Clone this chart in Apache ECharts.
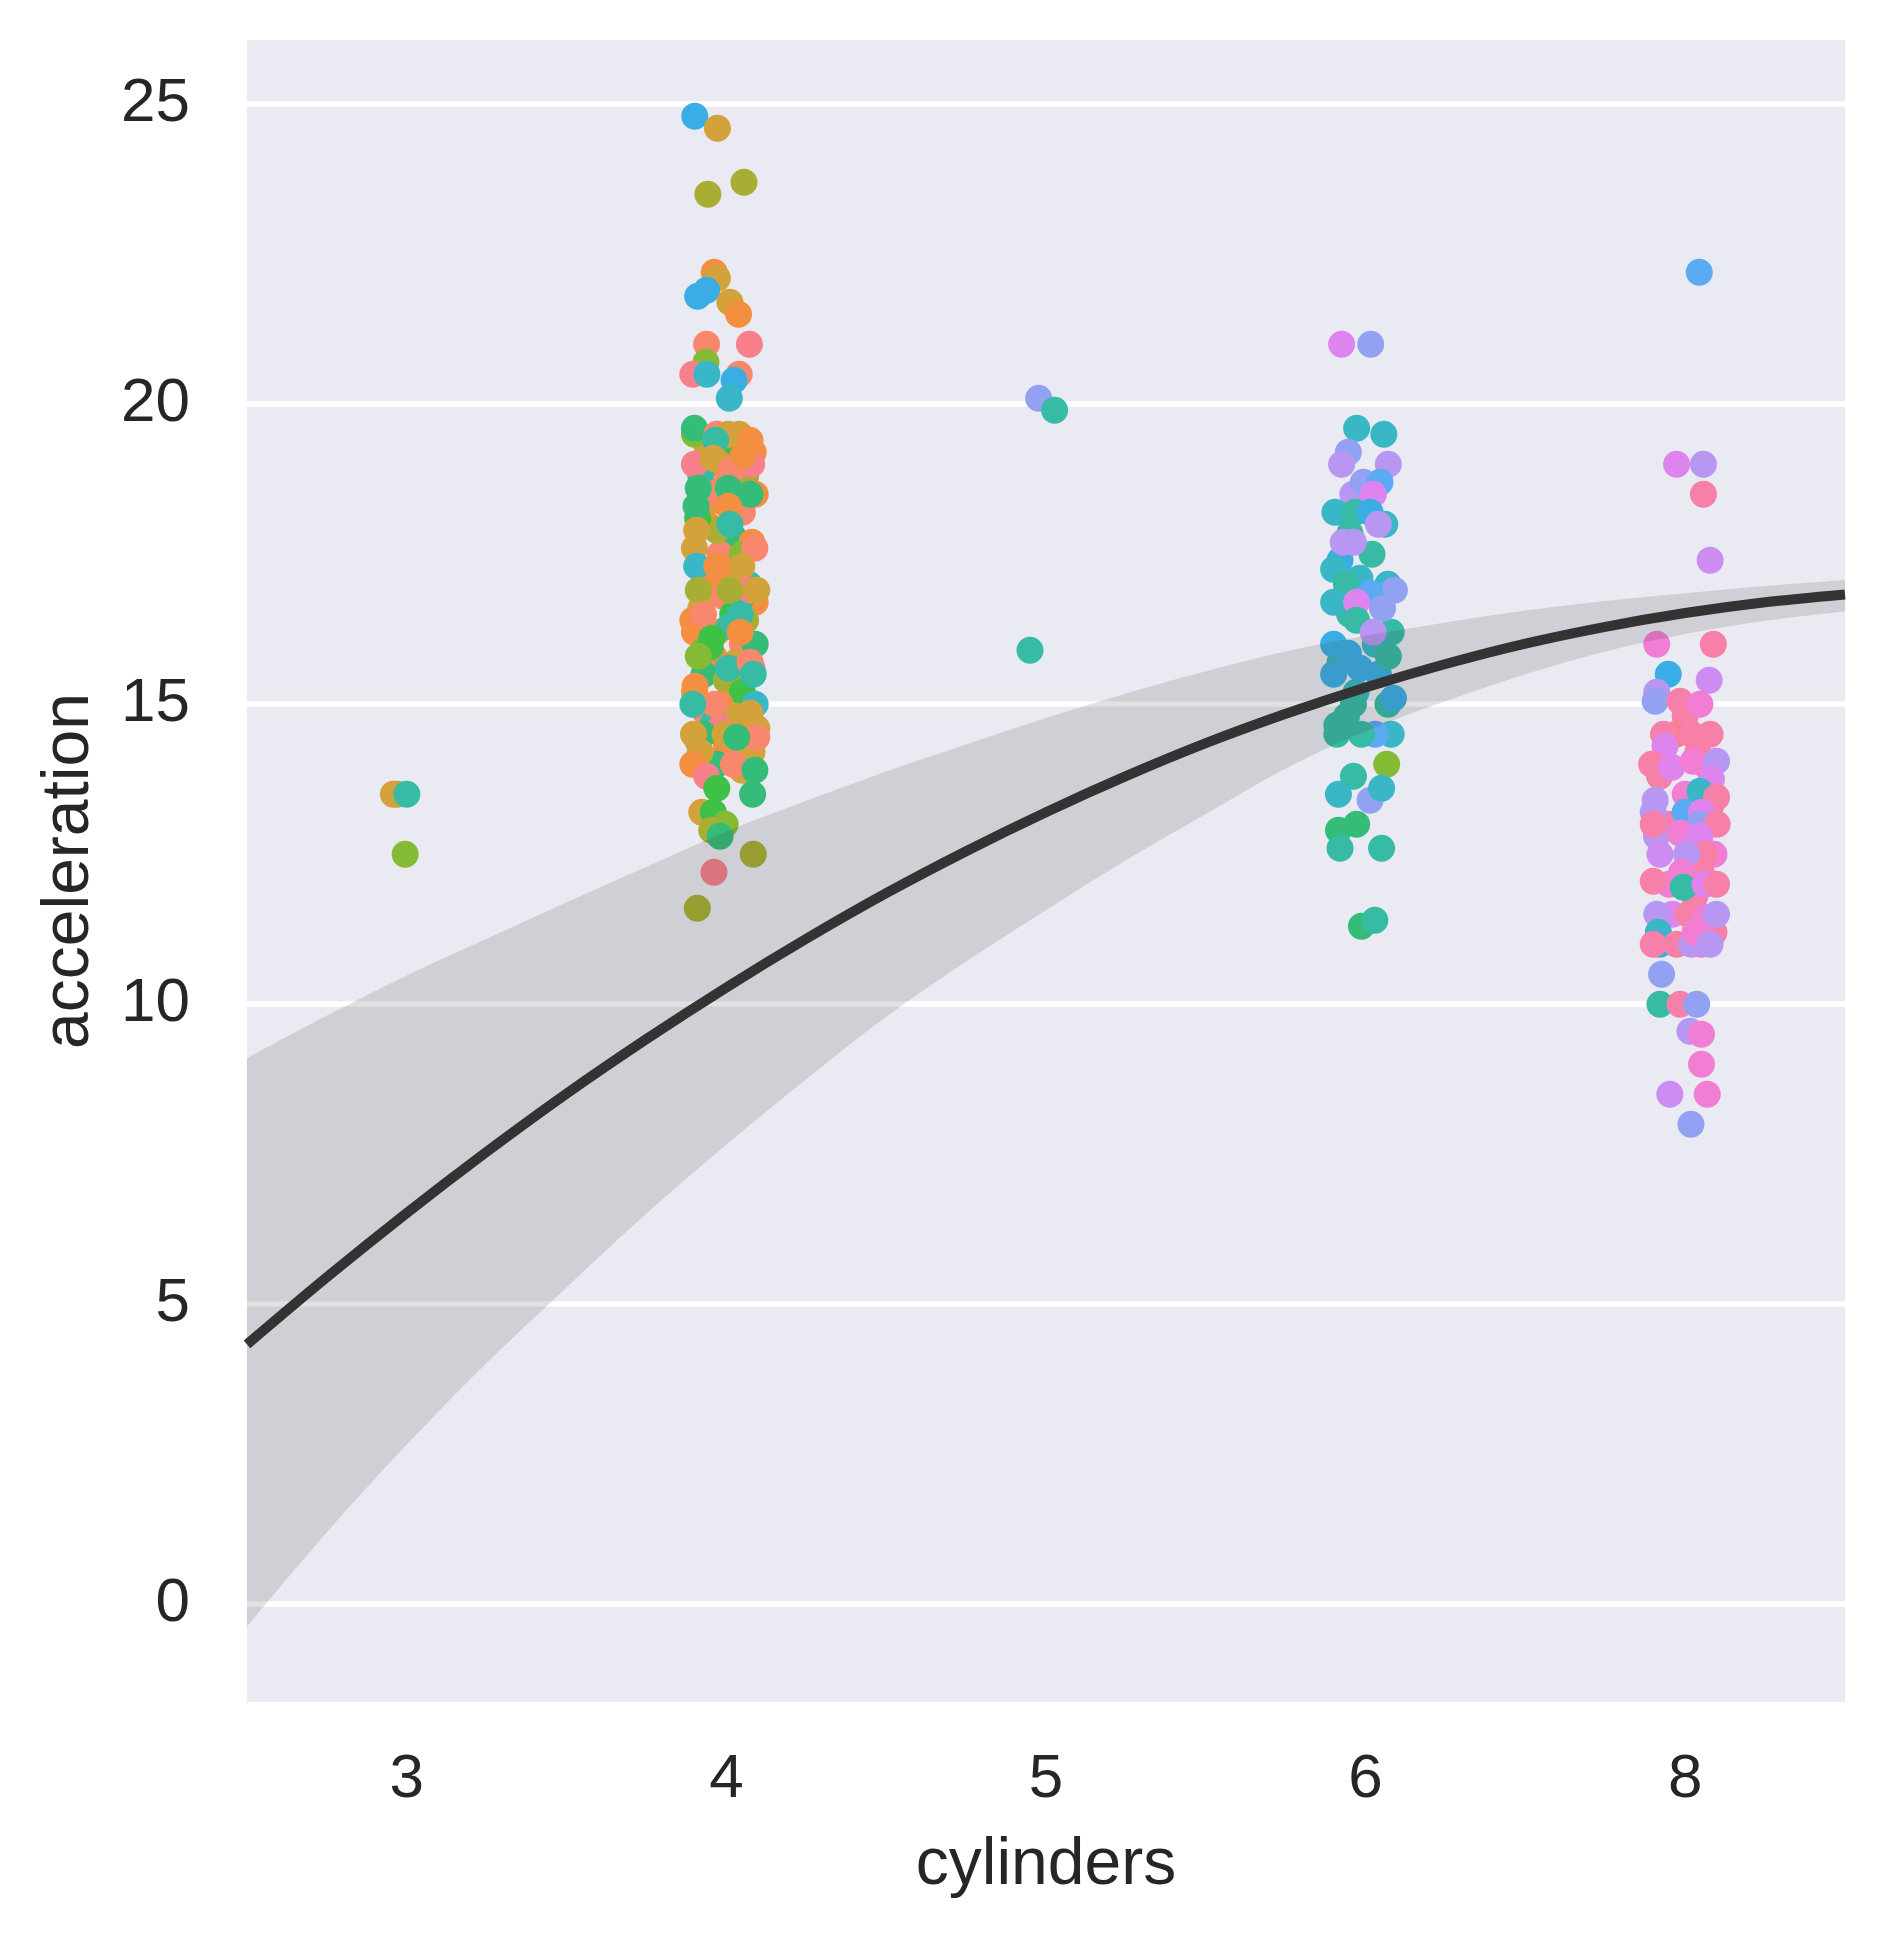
<!DOCTYPE html>
<html><head><meta charset="utf-8">
<script src="https://cdn.jsdelivr.net/npm/echarts@6/dist/echarts.min.js"></script>
<style>html,body{margin:0;padding:0;background:#fff}#c{width:1885px;height:1938px}</style>
</head><body><div id="c"></div>
<script>
// ---------- DATA ----------
const categories = ['3', '4', '5', '6', '8'];

// cylinders = 3
const acc3 = [13.5, 13.5, 13.5, 12.5];
const jit3 = [-0.03, -0.042, 0.0, -0.005];
const hue3 = 'GGTY';

// cylinders = 4 (back layer, then front layer)
const acc4a = [19.3,19.2,19.0,18.8,18.8,18.5,18.4,18.2,18.0,17.8,17.7,17.6,17.5,17.5,17.2,17.0,17.0,16.8,16.7,16.6,16.5,16.4,16.2,16.2,16.0,16.0,15.8,15.7,15.5,15.5,15.4,15.2,15.2,15.0,15.0,14.9,14.8,14.7,14.5,14.4,14.3,14.2,14.0,16.9,18.6,19.5,17.9,16.3,15.6,14.6,13.9,18.1,16.8,15.9];
const jit4a = [-0.06,0.03,-0.02,0.06,-0.08,0.09,-0.03,0.05,-0.06,0.02,0.08,-0.1,-0.02,0.05,0.0,-0.05,0.07,-0.01,0.09,-0.08,0.02,0.06,-0.1,-0.03,0.05,0.09,-0.04,0.03,-0.07,0.07,0.0,-0.1,0.05,-0.02,0.09,-0.07,0.03,-0.04,0.06,-0.09,0.0,0.08,-0.03,0.03,-0.01,0.04,-0.03,0.01,0.08,-0.02,0.05,-0.09,0.05,-0.07];
const hue4a = 'GNOLTOGSOEOGSYGOTSOGNLOGSEOGEOLGNOCSGTOLOGEOSGLTRRGNNY';
const acc4b = [24.8,24.6,23.5,23.7,22.2,22.1,21.8,21.9,21.7,21.5,21.0,21.0,20.7,20.5,20.5,20.5,20.4,20.1,
  19.5,19.6,
  19.5,19.5,19.4,19.4,19.2,19.0,19.0,
  19.1,18.9,19.15,18.5,
  18.6,18.6,18.5,18.3,18.3,
  17.9,18.0,17.6,17.3,17.3,17.3,16.9,16.9,16.9,16.9,
  16.4,16.5,16.5,16.2,16.1,15.95,15.6,15.7,15.8,15.3,
  15.5,15.0,15.0,14.85,14.5,14.5,14.5,14.6,14.45,14.2,
  14.0,14.0,14.45,13.8,13.9,13.5,13.6,13.2,13.2,13.0,
  12.9,12.8,12.5,12.2,11.6];
const jit4b = [-0.099,-0.028,-0.058,0.055,-0.038,-0.028,-0.09,-0.062,0.011,0.038,-0.062,0.072,-0.064,-0.105,-0.061,0.04,0.024,0.009,
  -0.1,-0.1,
  -0.03,0.006,0.074,-0.034,0.084,-0.1,0.079,
  -0.041,0.016,0.053,-0.051,
  -0.088,0.006,0.074,-0.095,0.006,
  -0.093,0.011,0.089,-0.093,0.048,-0.03,-0.088,0.074,0.011,0.095,
  -0.105,-0.072,0.043,0.043,-0.046,-0.051,0.006,0.074,-0.088,-0.098,
  0.084,-0.036,-0.105,0.074,-0.072,-0.103,-0.004,0.095,0.095,-0.082,
  -0.105,0.022,0.032,-0.062,0.089,0.082,-0.03,-0.077,-0.041,-0.004,
  -0.046,-0.02,0.084,-0.039,-0.091];
const hue4b = 'BGLLOGBBGOSRYRCSBC' + 'YE' + 'SGOTORR' + 'GSOS' + 'EEEEO' + 'GTSCGOLRLG' + 'OSTONNTSYO' + 'TSTGEGGGSG' + 'OSEREENGNY' + 'LELRL';

// cylinders = 5
const acc5 = [20.1, 19.9, 15.9];
const jit5 = [-0.023, 0.027, -0.05];
const hue5 = 'PTT';

// cylinders = 6
const acc6a = [18.0,17.5,17.4,17.0,16.5,16.2,16.0,15.7,15.5,15.2,15.0,14.8,14.5,16.9,18.5];
const jit6a = [0.06,0.02,-0.08,0.07,-0.05,0.08,0.03,-0.08,0.04,-0.03,0.07,-0.06,0.08,0.09,-0.04];
const hue6a = 'CTBCTTCTBCTTCPV';
const acc6b = [21.0,21.0,19.6,19.5,19.2,19.0,19.0,18.7,18.7,18.5,
  18.2,18.2,18.2,18.0,17.85,17.7,17.7,17.25,17.1,17.0,
  16.85,16.7,16.7,16.6,16.4,16.2,16.0,15.85,15.8,15.5,
  15.6,15.1,15.0,14.65,14.5,14.5,14.5,14.0,13.8,13.5,
  13.4,13.6,12.9,13.0,12.6,12.6,11.3,11.4];
const jit6b = [-0.075,0.016,-0.028,0.057,-0.054,-0.075,0.071,-0.007,0.045,0.024,
  -0.096,-0.033,0.014,0.04,-0.049,-0.07,-0.038,-0.1,-0.018,-0.06,
  0.014,-0.1,-0.028,0.053,-0.028,0.024,-0.1,-0.054,0.071,-0.1,
  -0.018,0.087,-0.038,-0.09,-0.09,0.03,-0.013,0.066,-0.038,-0.085,
  0.014,0.05,-0.085,-0.028,-0.08,0.05,-0.013,0.029];
const hue6b = 'MPCCPVVPKM' + 'CTBVTVVCCT' + 'KCMPTVBBTB' + 'BBTTTKTYTC' + 'PCEETTET';

// cylinders = 8
const acc8a = [14.8,14.5,14.2,13.8,13.5,13.0,13.0,12.8,12.5,12.2,12.0,11.8,11.5,11.2,13.3,12.7,14.0,11.0];
const jit8a = [0.0,-0.03,0.04,-0.08,0.0,-0.05,0.07,-0.09,0.09,0.05,-0.05,0.03,-0.04,0.09,0.08,0.02,0.06,0.05];
const hue8a = 'FRFFIFRVIFIFMFFFRI';
const acc8b = [22.2,19.0,19.0,18.5,17.4,16.0,16.0,15.5,15.4,15.2,
  15.05,15.05,15.0,14.5,14.5,14.5,14.3,14.0,13.95,14.05,
  14.05,13.75,13.55,13.4,13.45,13.2,13.2,13.2,13.0,13.0,
  13.0,12.85,12.8,12.5,12.5,12.5,12.2,12.05,11.95,12.0,
  12.0,11.5,11.5,11.45,11.5,11.2,11.0,11.0,11.0,11.0,
  11.2,11.0,10.5,10.0,10.0,10.0,9.55,9.5,9.0,8.5,
  8.5,8.0];
const jit8b = [0.044,-0.027,0.057,0.057,0.078,-0.089,0.088,-0.053,0.075,-0.089,
  -0.094,-0.016,0.046,-0.068,0.02,0.078,-0.063,-0.105,-0.042,0.025,
  0.098,0.082,0.046,-0.094,0.098,0.0,-0.1,0.051,0.046,-0.1,
  0.1,-0.016,0.046,-0.079,0.062,0.004,-0.011,-0.1,-0.006,0.062,
  0.098,-0.089,0.01,0.067,0.098,-0.084,-0.079,-0.1,-0.027,0.02,
  0.031,0.078,-0.074,-0.079,-0.016,0.036,0.015,0.051,0.051,-0.048,
  0.069,0.018];
const hue8b = 'KMVFUIFBUV' + 'PFIFFFMFMI' + 'VMCVFKVMPF' + 'FIMUFVIFTM' + 'FVFIVCBFFV' + 'IVPTFPVIIU' + 'IP';

// regression fit in category-position units
const fitX    = [-0.5,-0.25,0,0.25,0.5,0.75,1,1.25,1.5,1.75,2,2.25,2.5,2.75,3,3.25,3.5,3.75,4,4.25,4.5];
const fitY    = [4.33,5.45,6.52,7.54,8.51,9.42,10.28,11.09,11.85,12.55,13.20,13.80,14.35,14.84,15.28,15.67,16.01,16.29,16.52,16.70,16.83];
const ciUpper = [9.10,9.81,10.48,11.09,11.70,12.29,12.88,13.39,13.88,14.33,14.77,15.18,15.55,15.88,16.14,16.36,16.56,16.72,16.85,16.97,17.07];
const ciLower = [-0.37,1.20,2.66,4.02,5.28,6.51,7.66,8.75,9.79,10.71,11.57,12.40,13.17,13.93,14.55,15.05,15.50,15.88,16.17,16.39,16.55];

// ---------- STYLE ----------
const palette = {
  R:'#F7808B', S:'#F8876E', O:'#F48F42', G:'#D4A23A', L:'#A8AE33', Y:'#85BA35',
  N:'#3EC246', E:'#35BC78', T:'#37BBA5', C:'#39B7C6', B:'#3AAEE4', K:'#5AAAF4',
  P:'#93A1F2', V:'#B797F2', U:'#CC8CF1', M:'#DE84EE', I:'#F27ED3', F:'#F680A8'
};
const FONT = '"Liberation Sans", Arial, sans-serif';
const TXT = '#262626';

function pts(pos, acc, jit, hue) {
  return acc.map((a, i) => ({ value: [pos + jit[i], a], itemStyle: { color: palette[hue[i]] } }));
}
const scatterData = [].concat(
  pts(0, acc3, jit3, hue3),
  pts(1, acc4a, jit4a, hue4a), pts(1, acc4b, jit4b, hue4b),
  pts(2, acc5, jit5, hue5),
  pts(3, acc6a, jit6a, hue6a), pts(3, acc6b, jit6b, hue6b),
  pts(4, acc8a, jit8a, hue8a), pts(4, acc8b, jit8b, hue8b)
);

// Catmull-Rom -> cubic bezier path through pixel points
function curveCmds(p) {
  let d = '';
  for (let i = 0; i < p.length - 1; i++) {
    const p0 = p[Math.max(i - 1, 0)], p1 = p[i], p2 = p[i + 1], p3 = p[Math.min(i + 2, p.length - 1)];
    const c1x = p1[0] + (p2[0] - p0[0]) / 6, c1y = p1[1] + (p2[1] - p0[1]) / 6;
    const c2x = p2[0] - (p3[0] - p1[0]) / 6, c2y = p2[1] - (p3[1] - p1[1]) / 6;
    d += ' C' + c1x + ' ' + c1y + ' ' + c2x + ' ' + c2y + ' ' + p2[0] + ' ' + p2[1];
  }
  return d;
}

const chart = echarts.init(document.getElementById('c'), null, { renderer: 'canvas' });
chart.setOption({
  animation: false,
  backgroundColor: '#ffffff',
  grid: { left: 247, right: 40, top: 40, bottom: 236, show: true, backgroundColor: '#EAEAF2', borderWidth: 0 },
  xAxis: [
    {
      type: 'category', data: categories, boundaryGap: true,
      axisLine: { show: false }, axisTick: { show: false }, splitLine: { show: false },
      axisLabel: { fontSize: 62, color: TXT, margin: 47, fontFamily: FONT },
      name: 'cylinders', nameLocation: 'middle', nameGap: 131,
      nameTextStyle: { fontSize: 66, color: TXT, fontFamily: FONT }
    },
    { type: 'value', min: -0.5, max: 4.5, show: false }
  ],
  yAxis: {
    type: 'value', min: -1.63, max: 26.07, splitNumber: 5,
    axisLine: { show: false }, axisTick: { show: false },
    splitLine: { show: true, showMinLine: false, showMaxLine: false, lineStyle: { color: '#ffffff', width: 5.5 } },
    axisLabel: {
      fontSize: 62, color: TXT, margin: 57, fontFamily: FONT,
      showMinLabel: false, showMaxLabel: false, padding: [6, 0, 0, 0],
      formatter: v => (Math.abs(v - Math.round(v / 5) * 5) < 1e-6 ? String(Math.round(v)) : '')
    },
    name: 'acceleration', nameLocation: 'middle', nameGap: 144, nameRotate: 90,
    nameTextStyle: { fontSize: 66, color: TXT, fontFamily: FONT }
  },
  series: [
    {
      type: 'scatter', xAxisIndex: 1, yAxisIndex: 0, z: 2,
      symbol: 'circle', symbolSize: 27, itemStyle: { opacity: 1 },
      emphasis: { disabled: true }, silent: true,
      data: scatterData
    },
    {
      type: 'custom', xAxisIndex: 1, yAxisIndex: 0, z: 3, silent: true,
      data: [[0, 0]],
      renderItem: function (params, api) {
        const up = fitX.map((x, i) => api.coord([x, ciUpper[i]]));
        const lo = fitX.map((x, i) => api.coord([x, ciLower[i]])).reverse();
        const d = 'M' + up[0][0] + ' ' + up[0][1] + curveCmds(up) +
                  ' L' + lo[0][0] + ' ' + lo[0][1] + curveCmds(lo) + ' Z';
        return { type: 'path', shape: { pathData: d }, style: { fill: 'rgba(51,51,51,0.15)' } };
      }
    },
    {
      type: 'line', xAxisIndex: 1, yAxisIndex: 0, z: 4, silent: true,
      showSymbol: false, smooth: 0.3,
      lineStyle: { color: '#333333', width: 10 },
      data: fitX.map((x, i) => [x, fitY[i]])
    }
  ]
});
</script>
</body></html>
